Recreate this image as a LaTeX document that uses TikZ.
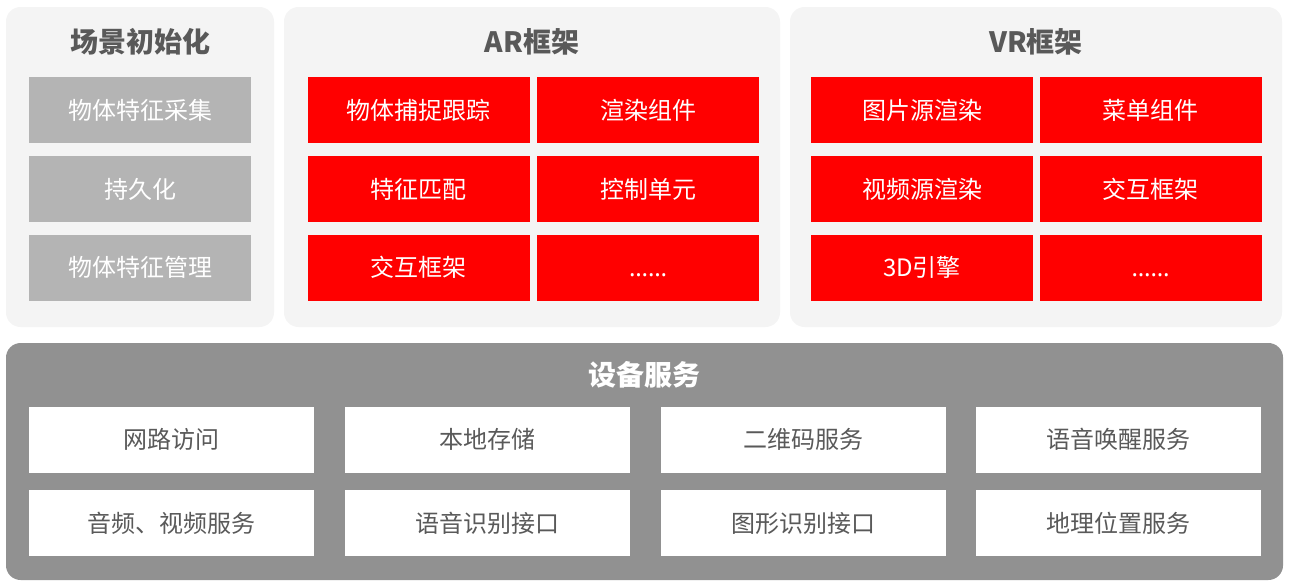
\documentclass[tikz,border=0pt]{standalone}
\usepackage{fontspec}
\setmainfont{Noto Sans CJK SC}
\newfontfamily\latinfont{Noto Sans}
\usepackage{xcolor}
\usepackage{tikz}
\definecolor{bg}{HTML}{FFFFFF}
\definecolor{panelbg}{HTML}{F4F4F4}
\definecolor{title}{HTML}{595959}
\definecolor{greybox}{HTML}{B4B4B4}
\definecolor{redbox}{HTML}{FF0000}
\definecolor{devbg}{HTML}{919191}
\definecolor{text}{HTML}{595959}
\tikzset{
  panel/.style={fill=panelbg, rounded corners=11pt, inner sep=0pt},
  devpanel/.style={fill=devbg, rounded corners=11pt, inner sep=0pt},
  head/.style={text=title, font=\fontsize{21}{25}\selectfont\bfseries},
  devhead/.style={head, text=white},
  box/.style={inner sep=0pt, minimum width=166.5pt, minimum height=49.5pt, font=\fontsize{18}{22}\selectfont},
  initbox/.style={box, fill=greybox, text=white},
  redbox/.style={box, fill=redbox, text=white},
  svcbox/.style={box, fill=white, text=text, minimum width=213.75pt}
}
\newcommand{\moredots}{\vphantom{交}{\latinfont ……}}

\begin{document}
\begin{tikzpicture}[x=0.75pt, y=-0.75pt]
  \useasboundingbox[fill=bg] (0,0) rectangle (1291,586);
  % upper panels
  \node[panel, minimum width=201pt, minimum height=240pt] (init) at (140,167) {};
  \node[panel, minimum width=372pt, minimum height=240pt] (ar) at (532,167) {};
  \node[panel, minimum width=369pt, minimum height=240pt] (vr) at (1036,167) {};
  \node[head] (initT) at (140,42) {场景初始化};
  \node[head] (arT) at (532,42) {AR框架};
  \node[head] (vrT) at (1036,42) {VR框架};
  % scene init
  \node[initbox] (collect) at (140,110) {物体特征采集};
  \node[initbox] (persist) at (140,189) {持久化};
  \node[initbox] (manage) at (140,267.5) {物体特征管理};
  % AR
  \node[redbox] (track) at (418.5,110) {物体捕捉跟踪};
  \node[redbox] (render) at (648,110) {渲染组件};
  \node[redbox] (match) at (418.5,189) {特征匹配};
  \node[redbox] (ctrl) at (648,189) {控制单元};
  \node[redbox] (arint) at (418.5,267.5) {交互框架};
  \node[redbox] (armore) at (648,267.5) {\moredots};
  % VR
  \node[redbox] (imgsrc) at (922,110) {图片源渲染};
  \node[redbox] (menu) at (1150.5,110) {菜单组件};
  \node[redbox] (vidsrc) at (922,189) {视频源渲染};
  \node[redbox] (vrint) at (1150.5,189) {交互框架};
  \node[redbox] (engine) at (922,267.5) {3D引擎};
  \node[redbox] (vrmore) at (1150.5,267.5) {\moredots};
  % device services
  \node[devpanel, minimum width=957.75pt, minimum height=177.75pt] (dev) at (644.5,461.5) {};
  \node[devhead] (devT) at (644.5,375) {设备服务};
  \node[svcbox] (net) at (171.5,439.5) {网路访问};
  \node[svcbox] (store) at (487.5,439.5) {本地存储};
  \node[svcbox] (qr) at (803.5,439.5) {二维码服务};
  \node[svcbox] (wake) at (1118.5,439.5) {语音唤醒服务};
  \node[svcbox] (media) at (171.5,523) {音频、视频服务};
  \node[svcbox] (speech) at (487.5,523) {语音识别接口};
  \node[svcbox] (shape) at (803.5,523) {图形识别接口};
  \node[svcbox] (geo) at (1118.5,523) {地理位置服务};
\end{tikzpicture}
\end{document}
